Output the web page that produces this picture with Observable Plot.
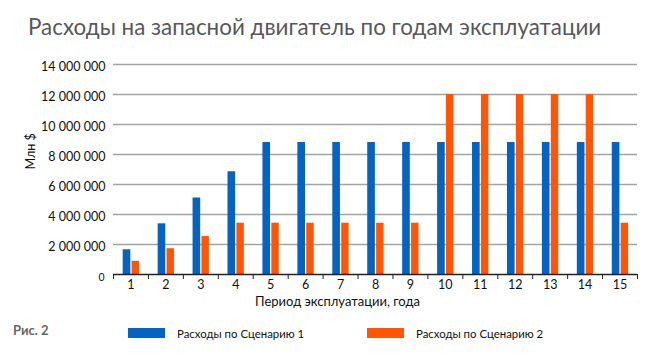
<!DOCTYPE html>
<html><head><meta charset="utf-8">
<script src="https://cdn.jsdelivr.net/npm/d3@7"></script>
<script src="https://cdn.jsdelivr.net/npm/@observablehq/plot@0.6"></script>
<style>
body{margin:0;background:#fff;font-family:Lato,"Noto Sans",sans-serif;}
#wrap{position:relative;width:660px;height:360px;overflow:hidden;background:#fff}
#title{position:absolute;left:28px;top:12px;font-size:22.4px;line-height:30px;color:#58585a;white-space:nowrap}
#chart{position:absolute;left:0;top:50px}
#fig{position:absolute;left:13px;top:321px;font-size:13px;font-weight:bold;color:#666;line-height:18px}
.item{position:absolute;top:324px;height:18px;display:flex;align-items:center;font-size:11.4px;color:#111;white-space:nowrap}
.sw{width:37px;height:10px;margin-right:12px}
</style></head>
<body><div id="wrap">
<div id="title"></div>
<div id="chart"></div>
<div id="fig"></div>
<div id="legend"></div>
</div>
<script>
// ---- data ----
const titleText = "Расходы на запасной двигатель по годам эксплуатации";
const figLabel = "Рис. 2";
const xLabel = "Период эксплуатации, года";
const yLabel = "Млн $";
const periods = [1,2,3,4,5,6,7,8,9,10,11,12,13,14,15];
const seriesNames = ["Расходы по Сценарию 1", "Расходы по Сценарию 2"];
const scenario1 = [1650000, 3380000, 5100000, 6850000, 8800000, 8800000, 8800000, 8800000, 8800000, 8800000, 8800000, 8800000, 8800000, 8800000, 8800000];
const scenario2 = [880000, 1720000, 2530000, 3420000, 3420000, 3420000, 3420000, 3420000, 3420000, 12000000, 12000000, 12000000, 12000000, 12000000, 3420000];
const yTicks = [0, 2000000, 4000000, 6000000, 8000000, 10000000, 12000000, 14000000];

// ---- styles ----
const colors = ["#0563c1", "#ff5507"];

const rows = periods.flatMap((p, i) => [
  {period: p, series: seriesNames[0], value: scenario1[i]},
  {period: p, series: seriesNames[1], value: scenario2[i]}
]);
const bounds = periods.map(p => p - 0.5).concat([periods[periods.length - 1] + 0.5]);
const fmt = d => d3.format(",")(d).replace(/,/g, " ");

document.getElementById("title").textContent = titleText;
document.getElementById("fig").textContent = figLabel;

const chart = Plot.plot({
  width: 660,
  height: 265,
  marginLeft: 113,
  marginRight: 23,
  marginTop: 14,
  marginBottom: 41,
  style: {fontFamily: "Lato, 'Noto Sans', sans-serif", background: "#fff", color: "#111"},
  x: {type: "linear", domain: [bounds[0], bounds[bounds.length - 1]]},
  y: {domain: [0, 14000000]},
  color: {domain: seriesNames, range: colors},
  marks: [
    Plot.ruleY(yTicks.filter(d => d > 0), {stroke: "#a3a3a3", strokeWidth: 1.4}),
    Plot.rectY(rows.filter(d => d.series === seriesNames[0]), {
      x1: d => d.period - 0.5, x2: d => d.period + 0.5, y: "value", fill: "series",
      insetLeft: 9.7, insetRight: 17.6
    }),
    Plot.rectY(rows.filter(d => d.series === seriesNames[1]), {
      x1: d => d.period - 0.5, x2: d => d.period + 0.5, y: "value", fill: "series",
      insetLeft: 18.6, insetRight: 8.9
    }),
    Plot.ruleY([0], {stroke: "#222", strokeWidth: 1.3}),
    Plot.axisX({ticks: bounds, tickSize: 5, tickFormat: () => "", stroke: "#222", label: null}),
    Plot.axisX({ticks: periods, tickSize: 0, tickPadding: 6, fontSize: 12.5, fill: "#111", label: null}),
    Plot.axisY({ticks: yTicks.slice(1), tickSize: 0, tickPadding: 8, tickFormat: fmt, fontSize: 12.5, fill: "#111", dy: 2, label: null}),
    Plot.axisY({ticks: [0], tickSize: 0, tickPadding: 9, tickFormat: fmt, fontSize: 10.5, fill: "#111", dy: 3, label: null}),
    Plot.text([yLabel], {frameAnchor: "left", dx: -83, rotate: -90, fontSize: 12.5, fill: "#111"}),
    Plot.text([xLabel], {frameAnchor: "bottom", dx: -38, dy: 31, fontSize: 13, fill: "#111"})
  ]
});
document.getElementById("chart").appendChild(chart);

const legend = document.getElementById("legend");
seriesNames.forEach((name, i) => {
  const item = document.createElement("div");
  item.className = "item";
  item.style.left = (128 + i * 239) + "px";
  const sw = document.createElement("div");
  sw.className = "sw";
  sw.style.background = colors[i];
  const tx = document.createElement("span");
  tx.textContent = name;
  item.appendChild(sw);
  item.appendChild(tx);
  legend.appendChild(item);
});
</script>
</body></html>
